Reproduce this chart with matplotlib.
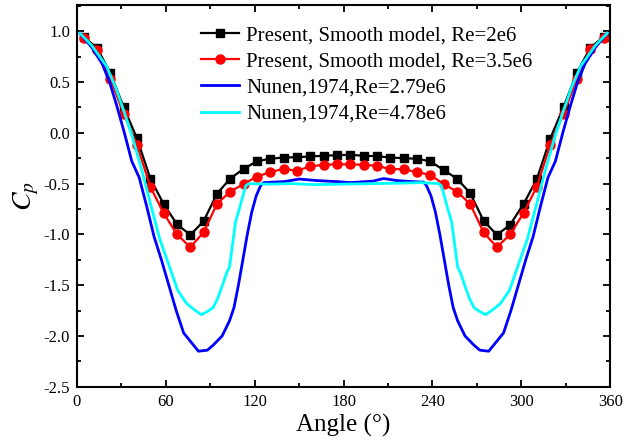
import matplotlib
matplotlib.use('Agg')
import matplotlib.pyplot as plt
from matplotlib.ticker import MultipleLocator

plt.rcParams['font.family'] = 'Liberation Serif'
plt.rcParams['mathtext.fontset'] = 'stix'

# present results (markers every 9 degrees)
angle_present = [4.5, 13.5, 22.5, 31.5, 40.5, 49.5, 58.5, 67.5, 76.5, 85.5,
                 94.5, 103.5, 112.5, 121.5, 130.5, 139.5, 148.5, 157.5, 166.5, 175.5,
                 184.5, 193.5, 202.5, 211.5, 220.5, 229.5, 238.5, 247.5, 256.5, 265.5,
                 274.5, 283.5, 292.5, 301.5, 310.5, 319.5, 328.5, 337.5, 346.5, 355.5]
cp_re2e6 = [0.945, 0.836, 0.59, 0.254, -0.055, -0.45, -0.70, -0.90, -1.005, -0.87,
            -0.60, -0.45, -0.355, -0.28, -0.255, -0.243, -0.24, -0.233, -0.226, -0.22,
            -0.216, -0.226, -0.23, -0.243, -0.25, -0.255, -0.28, -0.366, -0.45, -0.594,
            -0.865, -1.005, -0.905, -0.70, -0.456, -0.058, 0.254, 0.59, 0.836, 0.945]
cp_re35e6 = [0.93, 0.82, 0.53, 0.19, -0.12, -0.53, -0.79, -1.0, -1.125, -0.98,
             -0.70, -0.578, -0.505, -0.43, -0.387, -0.354, -0.374, -0.33, -0.315, -0.31,
             -0.31, -0.315, -0.325, -0.357, -0.357, -0.387, -0.413, -0.505, -0.578, -0.70,
             -0.98, -1.126, -1.0, -0.79, -0.53, -0.12, 0.19, 0.53, 0.826, 0.935]

# Nunen 1974, Re=2.79e6
angle_n279 = [2, 10, 17, 22, 27, 32, 37, 42, 47, 52, 57, 62, 67, 72, 77, 82, 88, 92, 98,
              103, 106, 109, 112, 115, 118, 121, 124, 126, 140, 150, 162, 175, 185, 200,
              207, 216, 226, 234, 236, 239, 242, 245, 248, 251, 254, 257, 262, 268, 272,
              278, 283, 288, 293, 298, 303, 308, 313, 318, 323, 328, 333, 338, 343, 350, 358]
cp_n279 = [0.98, 0.84, 0.68, 0.5, 0.26, 0.0, -0.28, -0.44, -0.72, -1.02, -1.25, -1.5,
           -1.75, -1.97, -2.06, -2.15, -2.14, -2.09, -2.0, -1.85, -1.72, -1.5, -1.25, -1.0,
           -0.78, -0.62, -0.52, -0.49, -0.48, -0.455, -0.47, -0.48, -0.49, -0.475, -0.45,
           -0.47, -0.48, -0.485, -0.52, -0.62, -0.78, -1.0, -1.25, -1.5, -1.72, -1.85,
           -2.0, -2.09, -2.14, -2.15, -2.06, -1.97, -1.75, -1.5, -1.25, -1.02, -0.72,
           -0.44, -0.28, 0.0, 0.26, 0.5, 0.68, 0.84, 0.98]

# Nunen 1974, Re=4.78e6
angle_n478 = [2, 10, 20, 26, 32, 38, 44, 50, 56, 62, 68, 74, 80, 84, 88, 92, 95, 98, 101,
              103, 105, 107, 110, 112, 114, 116, 130, 145, 160, 180, 200, 220, 232, 244,
              246, 248, 250, 253, 255, 257, 259, 262, 265, 268, 272, 276, 280, 286, 292,
              298, 304, 310, 316, 322, 328, 334, 340, 350, 358]
cp_n478 = [0.98, 0.86, 0.655, 0.45, 0.2, -0.07, -0.38, -0.72, -1.05, -1.3, -1.55, -1.68,
           -1.75, -1.79, -1.76, -1.72, -1.63, -1.51, -1.38, -1.32, -1.1, -0.88, -0.73,
           -0.62, -0.52, -0.50, -0.505, -0.50, -0.51, -0.505, -0.50, -0.495, -0.49,
           -0.50, -0.52, -0.62, -0.73, -0.88, -1.1, -1.32, -1.38, -1.51, -1.63, -1.72,
           -1.76, -1.79, -1.75, -1.68, -1.55, -1.3, -1.05, -0.72, -0.38, -0.07, 0.2,
           0.45, 0.655, 0.86, 0.98]

fig = plt.figure(figsize=(6.31, 4.41), dpi=100)
ax = fig.add_axes([0.122, 0.123, 0.845, 0.866])

ax.plot(angle_present, cp_re2e6, color='black', lw=1.6, marker='s', ms=6,
        label='Present, Smooth model, Re=2e6')
ax.plot(angle_present, cp_re35e6, color='#ff0000', lw=1.6, marker='o', ms=6.5,
        label='Present, Smooth model, Re=3.5e6')
ax.plot(angle_n279, cp_n279, color='#0000ff', lw=2, label='Nunen,1974,Re=2.79e6')
ax.plot(angle_n478, cp_n478, color='#00ffff', lw=2, label='Nunen,1974,Re=4.78e6')

ax.set_xlim(0, 360)
ax.set_ylim(-2.5, 1.26)
ax.set_xticks([0, 60, 120, 180, 240, 300, 360])
ax.xaxis.set_minor_locator(MultipleLocator(30))
ax.yaxis.set_major_locator(MultipleLocator(0.5))
ax.yaxis.set_minor_locator(MultipleLocator(0.25))
ax.yaxis.set_major_formatter(matplotlib.ticker.FormatStrFormatter('%.1f'))
ax.tick_params(which='both', direction='in', top=True, right=True, labelsize=12, width=1.3)
ax.tick_params(which='major', length=5, pad=5)
ax.tick_params(which='minor', length=3)
for s in ax.spines.values():
    s.set_linewidth(1.5)

ax.set_xlabel('Angle (°)', fontsize=18, labelpad=3)
ax.set_ylabel('$C_p$', fontsize=20, labelpad=2)

ax.legend(loc='upper right', frameon=False, fontsize=15, handlelength=1.8,
          handletextpad=0.35, labelspacing=0.32, borderaxespad=0.3,
          bbox_to_anchor=(0.881, 0.984))

plt.savefig('out.png', dpi=100)
